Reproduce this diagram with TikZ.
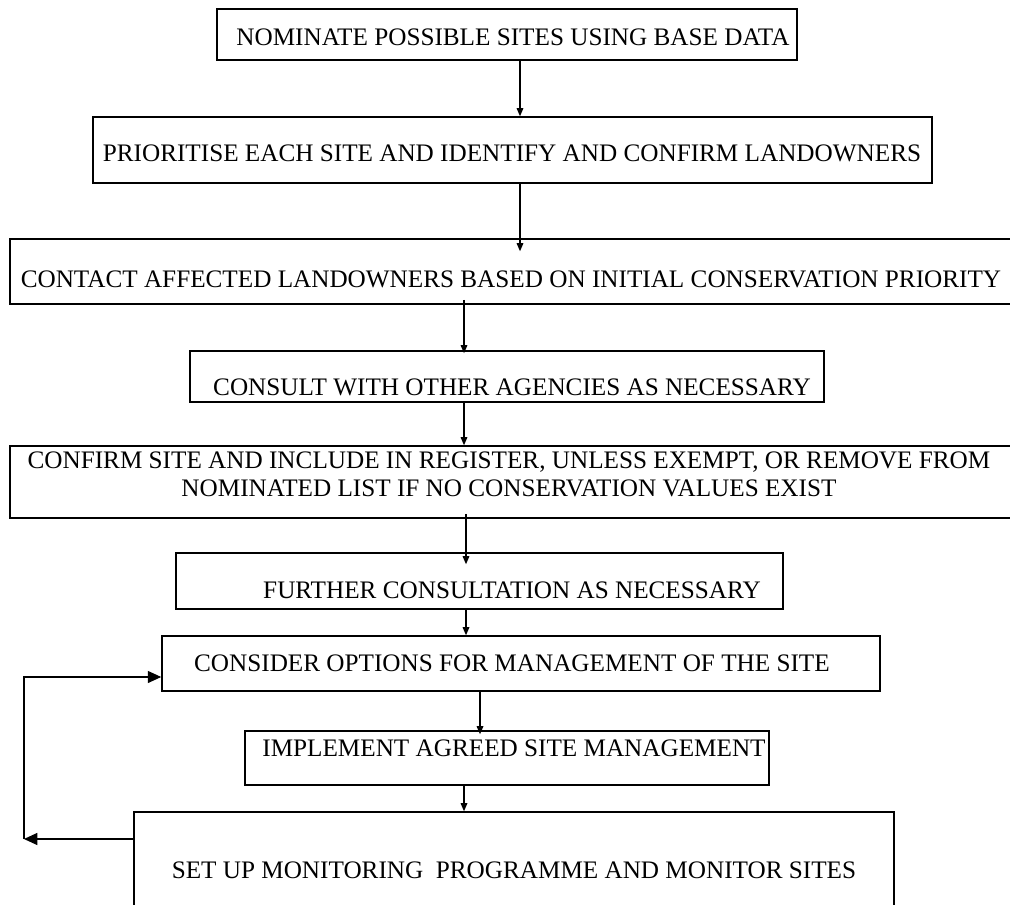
\documentclass[tikz,border=0pt]{standalone}
\usepackage{fontspec}
\setmainfont{Liberation Serif}
\usetikzlibrary{arrows.meta}

\tikzset{
  stepbox/.style={draw, line width=1.2pt, inner sep=0pt},
  steptext/.style={inner sep=0pt, font=\fontsize{18.9}{21}\selectfont,
    text height=12.5pt, text depth=0pt, align=center},
  flow/.style={-{Triangle[length=6pt,width=5pt]}, line width=0.8pt},
  loopback/.style={-{Triangle[length=10pt,width=9pt]}, line width=0.8pt}
}

\begin{document}
\begin{tikzpicture}[x=0.75pt,y=-0.75pt]
  \useasboundingbox (0,0) rectangle (1010,905);
  \clip (0,0) rectangle (1010,905);

  % the boxes
  \node[stepbox, minimum width=435pt, minimum height=38.25pt] (b1) at (507,34.5) {};
  \node[stepbox, minimum width=629.25pt, minimum height=49.5pt] (b2) at (512.5,150) {};
  \node[stepbox, minimum width=753pt, minimum height=48.75pt] (b3) at (512,271.5) {};
  \node[stepbox, minimum width=475.5pt, minimum height=38.25pt] (b4) at (507,376.5) {};
  \node[stepbox, minimum width=753pt, minimum height=54pt] (b5) at (512,482) {};
  \node[stepbox, minimum width=455.25pt, minimum height=42pt] (b6) at (479.5,581) {};
  \node[stepbox, minimum width=538.5pt, minimum height=41.25pt] (b7) at (521,663.5) {};
  \node[stepbox, minimum width=393pt, minimum height=40.5pt] (b8) at (507,758) {};
  \node[stepbox, minimum width=570pt, minimum height=88.5pt] (b9) at (514,871) {};

  % the texts
  \node[steptext] (t1) at (513,37) {NOMINATE POSSIBLE SITES USING BASE DATA};
  \node[steptext] (t2) at (512,153) {PRIORITISE EACH SITE AND IDENTIFY AND CONFIRM LANDOWNERS};
  \node[steptext] (t3) at (511,279) {CONTACT AFFECTED LANDOWNERS BASED ON INITIAL CONSERVATION PRIORITY};
  \node[steptext] (t4) at (512,387) {CONSULT WITH OTHER AGENCIES AS NECESSARY};
  \node[steptext] (t5) at (509,488) {CONFIRM SITE AND INCLUDE IN REGISTER, UNLESS EXEMPT, OR REMOVE FROM\\
    NOMINATED LIST IF NO CONSERVATION VALUES EXIST};
  \node[steptext] (t6) at (512,590) {FURTHER CONSULTATION AS NECESSARY};
  \node[steptext] (t7) at (512,663) {CONSIDER OPTIONS FOR MANAGEMENT OF THE SITE};
  \node[steptext] (t8) at (514,748) {IMPLEMENT AGREED SITE MANAGEMENT};
  \node[steptext] (t9) at (514,870) {SET UP MONITORING\ \ PROGRAMME AND MONITOR SITES};

  % arrows down the chart
  \coordinate (colA) at (520,0);
  \coordinate (colB) at (464,0);
  \coordinate (colC) at (466,0);
  \coordinate (colD) at (480,0);
  \draw[flow] (b1.south -| colA) -- (b2.north -| colA);
  \draw[flow, shorten >=-9.75pt] (b2.south -| colA) -- (b3.north -| colA);
  \draw[flow, shorten <=-3.75pt, shorten >=-2.25pt] (b3.south -| colB) -- (b4.north -| colB);
  \draw[flow] (b4.south -| colB) -- (b5.north -| colB);
  \draw[flow, shorten <=-3.75pt, shorten >=-9pt] (b5.south -| colC) -- (b6.north -| colC);
  \draw[flow] (b6.south -| colC) -- (b7.north -| colC);
  \draw[flow, shorten >=-3pt] (b7.south -| colD) -- (b8.north -| colD);
  \draw[flow] (b8.south -| colB) -- (b9.north -| colB);

  % monitoring feeds back
  \coordinate (fbBot) at (24,839);
  \coordinate (fbTop) at (24,677);
  \draw[loopback] (b9.west |- fbBot) -- (fbBot);
  \draw[loopback] (fbBot) -- (fbTop) -- (b7.west |- fbTop);
\end{tikzpicture}
\end{document}
